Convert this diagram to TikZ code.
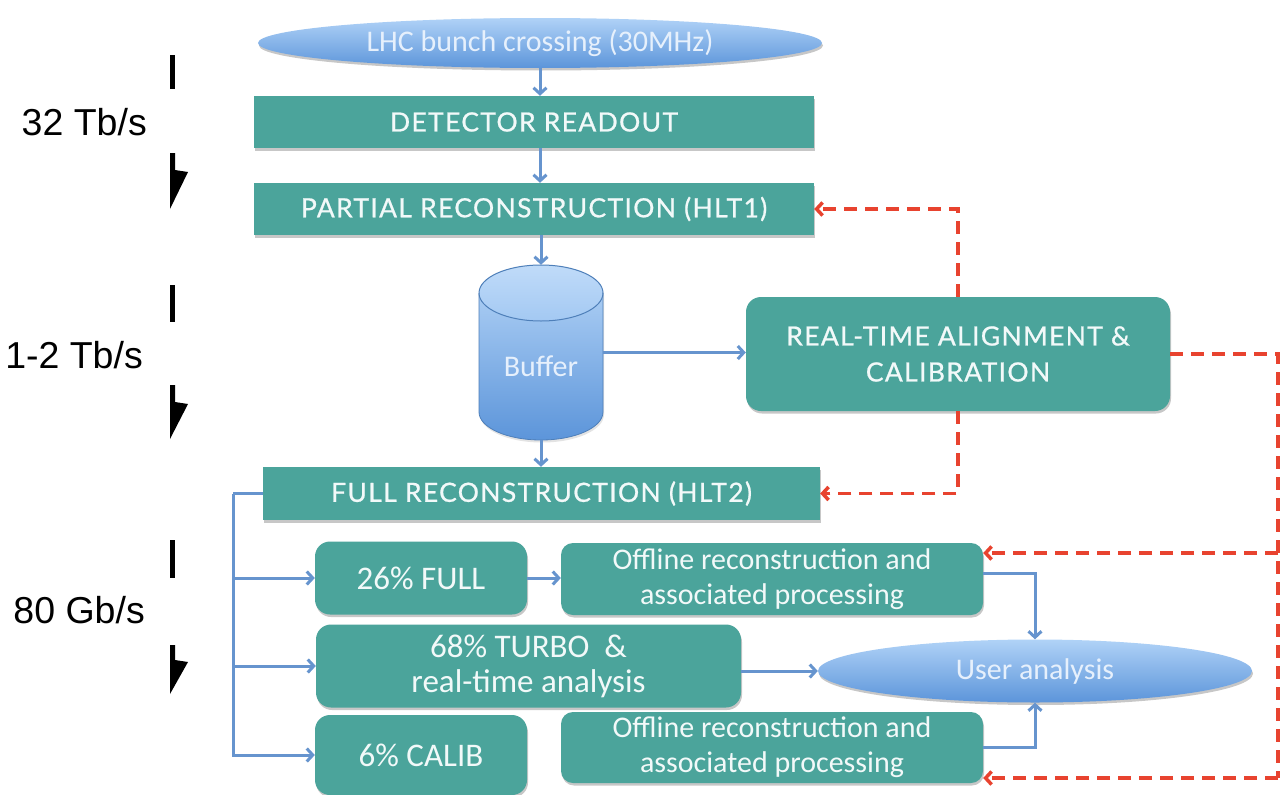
\documentclass[tikz,border=0pt]{standalone}
\usepackage{fontspec}
\setmainfont{Lato}
\newfontfamily\capsfont[LetterSpace=5,FakeBold=0.8]{Lato}
\newfontfamily\calfont{Carlito}
\newfontfamily\arifont{Liberation Sans}
\usetikzlibrary{arrows.meta,shadows,shapes.geometric,calc}
\definecolor{tealbox}{HTML}{4BA49B}
\definecolor{lineblue}{HTML}{6694CE}
\definecolor{redfb}{HTML}{E8432F}
\definecolor{elltop}{HTML}{B0D2F7}
\definecolor{ellbot}{HTML}{5C95DA}
\definecolor{elltext}{HTML}{E6F0FC}
\tikzset{
  shad/.style={drop shadow={shadow xshift=1pt, shadow yshift=-2.5pt, opacity=0.22, fill=black}},
  box/.style={shad, fill=tealbox, text=white!95!teal, inner sep=0pt, align=center,
     font=\capsfont\fontsize{26.5}{36}\selectfont},
  rbox/.style={box, rounded corners=15pt},
  obox/.style={box, rounded corners=12pt, font=\calfont\fontsize{30}{35}\selectfont},
  cbox/.style={box, rounded corners=15pt, font=\calfont\fontsize{33}{35}\selectfont},
  ell/.style={ellipse, shad, inner sep=0pt, top color=elltop, bottom color=ellbot,
     text=elltext, font=\calfont\fontsize{30}{32}\selectfont},
  flow/.style={draw=lineblue, line width=3pt, -{Straight Barb[length=6pt,width=13pt]}},
  flowline/.style={draw=lineblue, line width=3pt},
  fb/.style={draw=redfb, line width=3.5pt, dash pattern=on 13pt off 8pt,
     -{Straight Barb[length=6pt,width=13pt]}},
  fbline/.style={draw=redfb, line width=3.5pt, dash pattern=on 13pt off 8pt},
  rate/.style={anchor=east, inner sep=0pt, font=\arifont\fontsize{37.5}{40}\selectfont}
}
\begin{document}
\begin{tikzpicture}[x=1pt,y=-1pt]
\useasboundingbox[fill=white] (0,0) rectangle (1280,795);

% rate markers
\fill (170,55) rectangle (175,89);
\fill (170,153) -- (175,153) -- (175,170) -- (188,172) -- (170,209) -- cycle;
\fill (170,285) rectangle (175,322);
\fill (170,385) -- (175,385) -- (175,402) -- (188,404) -- (170,439) -- cycle;
\fill (170,540) rectangle (175,578);
\fill (170,645) -- (175,645) -- (175,660) -- (188,662) -- (170,694) -- cycle;
\node[rate] (r1) at (147,122) {32 Tb/s};
\node[rate] (r2) at (143,355) {1-2 Tb/s};
\node[rate] (r3) at (145,610) {80 Gb/s};

% nodes
\node[ell, minimum width=564pt, minimum height=50pt] (lhc) at (540,43) {LHC bunch crossing (30MHz)};
\node[box, minimum width=560pt, minimum height=52pt] (det) at (534,122) {DETECTOR READOUT};
\node[box, minimum width=560pt, minimum height=52pt] (hlt1) at (534,209) {PARTIAL RECONSTRUCTION (HLT1)};

% buffer cylinder
\shade[top color=elltop!90!white, bottom color=ellbot, drop shadow={shadow xshift=1pt, shadow yshift=-2.5pt, opacity=0.22}]
  (479,293) -- (479,412) arc[start angle=180, end angle=360, x radius=62pt, y radius=28pt]
  -- (603,293) arc[start angle=0, end angle=180, x radius=62pt, y radius=28pt] -- cycle;
\shade[top color=elltop!80!white, bottom color=elltop!85!ellbot] (541,293) ellipse [x radius=62pt, y radius=28pt];
\draw[ellbot!85!black, line width=1pt] (541,293) ellipse [x radius=62pt, y radius=28pt];
\draw[ellbot!85!black, line width=0.8pt]
  (479,293) -- (479,412) arc[start angle=180, end angle=360, x radius=62pt, y radius=28pt] -- (603,293);
\node[inner sep=0pt, minimum width=124pt, minimum height=175pt] (buf) at (541,352.5) {};
\node[inner sep=0pt, text=elltext, font=\calfont\fontsize{30}{32}\selectfont] (buftext) at (541,366) {Buffer};

\node[rbox, minimum width=424pt, minimum height=114pt] (rta) at (958,354) {REAL-TIME ALIGNMENT \&\\CALIBRATION};
\node[box, minimum width=557pt, minimum height=53pt] (hlt2) at (541.5,493.5) {FULL RECONSTRUCTION (HLT2)};

\node[cbox, minimum width=212pt, minimum height=73pt] (full) at (421,578) {26\% FULL};
\node[cbox, minimum width=425pt, minimum height=83pt] (turbo) at (528.5,666) {68\% TURBO\ \ \&\\real-time analysis};
\node[cbox, minimum width=212pt, minimum height=80pt] (calib) at (421,755) {6\% CALIB};
\node[obox, minimum width=422pt, minimum height=72pt] (off1) at (772,579) {Offline reconstruction and\\associated processing};
\node[obox, minimum width=422pt, minimum height=71pt] (off2) at (772,747.5) {Offline reconstruction and\\associated processing};
\node[ell, minimum width=434pt, minimum height=63pt] (user) at (1035,671) {User analysis};

% blue flow
\draw[flow] (lhc.south) -- (lhc.south |- det.north);
\draw[flow] (det.south -| lhc.south) -- (hlt1.north -| lhc.south);
\draw[flow] (hlt1.south -| buf.north) -- (buf.north);
\draw[flow] (buf.east) -- (rta.west |- buf.east);
\draw[flow] (buf.south) -- (hlt2.north -| buf.south);

\coordinate (bus) at (233,493.5);
\draw[flowline] (hlt2.west) -- (bus);
\draw[flow] (bus) |- (calib.west);
\draw[flow] (bus |- full.west) -- (full.west);
\draw[flow] (bus |- turbo.west) -- (turbo.west);
\draw[flow] (full.east) -- (off1.west |- full.east);
\draw[flow] (turbo.east |- user.west) -- (user.west);
\draw[flow] ([yshift=6pt]off1.east) -| (user.north);
\draw[flow] (off2.east) -| (user.south);

% red feedback
\draw[fb] (rta.north) |- (hlt1.east);
\draw[fb] (rta.south) |- (hlt2.east);
\coordinate (rbus) at (1278,354);
\coordinate (o1in) at ([yshift=26pt]off1.east);
\coordinate (o2in) at ([yshift=-30.5pt]off2.east);
\draw[fbline] (rta.east) -- (rbus) -- (rbus |- o2in);
\draw[fb] (rbus |- o1in) -- (o1in);
\draw[fb] (rbus |- o2in) -- (o2in);
\end{tikzpicture}
\end{document}
